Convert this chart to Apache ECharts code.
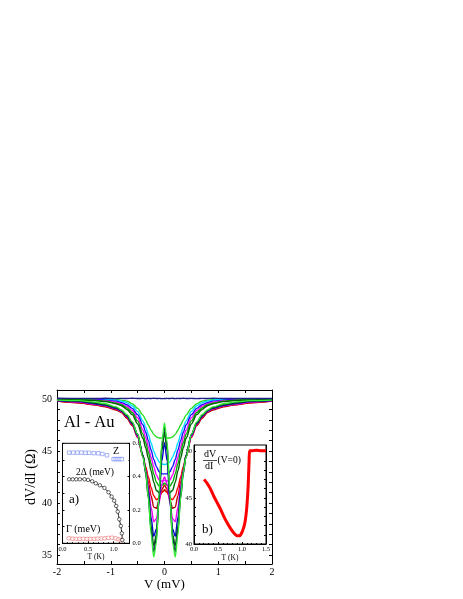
<!DOCTYPE html>
<html>
<head>
<meta charset="utf-8">
<script src="https://cdn.jsdelivr.net/npm/echarts@6/dist/echarts.min.js"></script>
<style>
  html, body { margin: 0; padding: 0; background: #fff; }
  #chart { width: 463px; height: 599px; }
</style>
</head>
<body>
<div id="chart"></div>
<script>
// bias voltage grid (mV) shared by all dV/dI curves
const vGrid = [-2, -1.6, -1.3, -1.1, -0.9, -0.8, -0.7, -0.6, -0.5, -0.4, -0.35, -0.3, -0.25, -0.2, -0.15, -0.1, -0.05, 0,
  0.05, 0.1, 0.15, 0.2, 0.25, 0.3, 0.35, 0.4, 0.5, 0.6, 0.7, 0.8, 0.9, 1.1, 1.3, 1.6, 2]

// dV/dI (Ohm), from highest to lowest temperature
const curveNormal = [50.08, 50.06, 50.05, 50.07, 50.04, 50.06, 50.05, 50.07, 50.05, 50.06, 50.04, 50.06, 50.05, 50.07, 50.05,
  50.06, 50.04, 50.05, 50.06, 50.05, 50.07, 50.04, 50.06, 50.05, 50.07, 50.05, 50.06, 50.04, 50.06, 50.05,
  50.07, 50.05, 50.06, 50.05, 50.06]
const curveGreen1 = [50.0, 50.0, 50.0, 50.0, 49.95, 49.9, 49.8, 49.55, 49.1, 48.45, 48.0, 47.5, 47.0, 46.6, 46.35,
  46.25, 46.25, 46.4, 46.25, 46.25, 46.35, 46.6, 47.0, 47.5, 48.0, 48.45, 49.1, 49.55, 49.8, 49.9,
  49.95, 50.0, 50.0, 50.0, 50.0]
const curveCyan = [50.0, 50.0, 50.0, 49.95, 49.9, 49.8, 49.65, 49.35, 48.8, 47.9, 47.3, 46.6, 45.8, 45.0, 44.4,
  43.95, 43.75, 43.7, 43.75, 43.95, 44.4, 45.0, 45.8, 46.6, 47.3, 47.9, 48.8, 49.35, 49.65, 49.8,
  49.9, 49.95, 50.0, 50.0, 50.0]
const curveBlue1 = [50.0, 50.0, 49.95, 49.9, 49.8, 49.65, 49.45, 49.1, 48.5, 47.5, 46.8, 46.0, 45.1, 44.2, 43.5,
  43.0, 42.8, 42.8, 42.8, 43.0, 43.5, 44.2, 45.1, 46.0, 46.8, 47.5, 48.5, 49.1, 49.45, 49.65,
  49.8, 49.9, 49.95, 50.0, 50.0]
const curveMagenta1 = [50.0, 49.95, 49.9, 49.85, 49.7, 49.55, 49.3, 48.9, 48.2, 47.0, 46.3, 45.4, 44.4, 43.5, 42.7,
  42.2, 42.1, 42.2, 42.1, 42.2, 42.7, 43.5, 44.4, 45.4, 46.3, 47.0, 48.2, 48.9, 49.3, 49.55,
  49.7, 49.85, 49.9, 49.95, 50.0]
const curveGreen2 = [50.0, 49.95, 49.9, 49.8, 49.6, 49.45, 49.15, 48.7, 47.9, 46.6, 45.8, 44.9, 43.8, 42.8, 42.0,
  41.6, 41.7, 41.9, 41.7, 41.6, 42.0, 42.8, 43.8, 44.9, 45.8, 46.6, 47.9, 48.7, 49.15, 49.45,
  49.6, 49.8, 49.9, 49.95, 50.0]
const curveOlive = [49.95, 49.9, 49.85, 49.75, 49.55, 49.35, 49.0, 48.5, 47.6, 46.2, 45.3, 44.3, 43.1, 42.0, 41.2,
  41.0, 41.1, 41.2, 41.1, 41.0, 41.2, 42.0, 43.1, 44.3, 45.3, 46.2, 47.6, 48.5, 49.0, 49.35,
  49.55, 49.75, 49.85, 49.9, 49.95]
const curveRed = [49.8, 49.65, 49.45, 49.3, 49.0, 48.75, 48.2, 47.5, 46.4, 44.5, 43.5, 42.5, 41.5, 40.7, 40.3,
  40.5, 41.0, 41.3, 41.0, 40.5, 40.3, 40.7, 41.5, 42.5, 43.5, 44.5, 46.4, 47.5, 48.2, 48.75,
  49.0, 49.3, 49.45, 49.65, 49.8]
const curveDarkRed = [49.8, 49.65, 49.45, 49.25, 48.95, 48.7, 48.15, 47.45, 46.3, 44.4, 43.3, 42.0, 40.7, 39.6, 39.5,
  40.3, 41.3, 41.7, 41.3, 40.3, 39.5, 39.6, 40.7, 42.0, 43.3, 44.4, 46.3, 47.45, 48.15, 48.7,
  48.95, 49.25, 49.45, 49.65, 49.8]
const curveMagenta2 = [49.85, 49.7, 49.5, 49.35, 49.05, 48.8, 48.3, 47.6, 46.4, 44.5, 43.2, 41.6, 39.6, 38.2, 38.5,
  40.0, 41.8, 42.5, 41.8, 40.0, 38.5, 38.2, 39.6, 41.6, 43.2, 44.5, 46.4, 47.6, 48.3, 48.8,
  49.05, 49.35, 49.5, 49.7, 49.85]
const curveBlue2 = [49.85, 49.75, 49.55, 49.4, 49.1, 48.85, 48.35, 47.65, 46.5, 44.6, 43.1, 41.2, 38.6, 36.8, 37.5,
  40.2, 44.0, 45.8, 44.0, 40.2, 37.5, 36.8, 38.6, 41.2, 43.1, 44.6, 46.5, 47.65, 48.35, 48.85,
  49.1, 49.4, 49.55, 49.75, 49.85]
const curveDarkGreen = [49.9, 49.8, 49.6, 49.45, 49.15, 48.9, 48.4, 47.7, 46.6, 44.6, 43.0, 40.8, 37.8, 35.9, 37.0,
  40.5, 45.0, 46.8, 45.0, 40.5, 37.0, 35.9, 37.8, 40.8, 43.0, 44.6, 46.6, 47.7, 48.4, 48.9,
  49.15, 49.45, 49.6, 49.8, 49.9]
const curveNavy = [49.9, 49.8, 49.65, 49.5, 49.2, 48.9, 48.45, 47.75, 46.6, 44.5, 42.8, 40.5, 37.4, 35.3, 36.6,
  40.8, 45.5, 47.3, 45.5, 40.8, 36.6, 35.3, 37.4, 40.5, 42.8, 44.5, 46.6, 47.75, 48.45, 48.9,
  49.2, 49.5, 49.65, 49.8, 49.9]
const curveGreen3 = [49.9, 49.85, 49.7, 49.55, 49.25, 48.95, 48.5, 47.8, 46.6, 44.4, 43.0, 40.5, 37.0, 34.8, 36.2,
  41.0, 45.8, 47.7, 45.8, 41.0, 36.2, 34.8, 37.0, 40.5, 43.0, 44.4, 46.6, 47.8, 48.5, 48.95,
  49.25, 49.55, 49.7, 49.85, 49.9]

// inset a): fit parameters vs T (K)
const zT = [0.13, 0.21, 0.29, 0.37, 0.45, 0.52, 0.61, 0.70, 0.78, 0.87, 1.00, 1.04, 1.08, 1.12, 1.16]
const zVal = [0.544, 0.544, 0.544, 0.544, 0.543, 0.543, 0.541, 0.540, 0.536, 0.528, 0.505, 0.505, 0.505, 0.505, 0.505]
const gapT = [0.13, 0.20, 0.27, 0.34, 0.43, 0.50, 0.58, 0.65, 0.73, 0.82, 0.90, 0.96, 1.01, 1.05, 1.08, 1.11, 1.14, 1.16, 1.17]
const gapVal = [0.384, 0.384, 0.384, 0.384, 0.384, 0.380, 0.372, 0.360, 0.348, 0.332, 0.306, 0.280, 0.256, 0.224, 0.190, 0.144, 0.104, 0.060, 0.020]
const gammaT = [0.13, 0.20, 0.27, 0.34, 0.41, 0.48, 0.55, 0.62, 0.69, 0.76, 0.83, 0.90, 0.97, 1.04, 1.10, 1.15]
const gammaVal = [0.030, 0.028, 0.027, 0.027, 0.027, 0.026, 0.027, 0.027, 0.028, 0.029, 0.030, 0.033, 0.034, 0.030, 0.024, 0.018]

// inset b): zero bias dV/dI vs T (K)
const zbT = [0.21, 0.27, 0.34, 0.41, 0.48, 0.55, 0.62, 0.69, 0.76, 0.83, 0.90, 0.95, 1.01, 1.06, 1.10, 1.13, 1.15, 1.16, 1.2, 1.3, 1.4, 1.5]
const zbVal = [47.0, 46.6, 46.0, 45.2, 44.5, 43.8, 43.0, 42.3, 41.7, 41.2, 40.9, 40.9, 41.4, 42.3, 44.0, 46.5, 49.4, 50.1, 50.1, 50.15, 50.1, 50.1]

const mainTicks = [35, 40, 45, 50]
const FONT = 'Liberation Serif'

const curves = [
  [curveGreen1, '#22dd22'],
  [curveCyan, '#00ddff'],
  [curveBlue1, '#1010ff'],
  [curveMagenta1, '#ff00ff'],
  [curveGreen2, '#00aa00'],
  [curveOlive, '#006400'],
  [curveRed, '#ff0000'],
  [curveDarkRed, '#bb0000'],
  [curveMagenta2, '#ee00ee'],
  [curveBlue2, '#0000cc'],
  [curveDarkGreen, '#007000'],
  [curveNavy, '#10105a'],
  [curveGreen3, '#33ee33'],
  [curveNormal, '#20208a']
]

const pairs = (xs, ys) => xs.map((x, i) => [x, ys[i]])

const mainSeries = curves.map(([vals, color]) => ({
  type: 'line',
  xAxisIndex: 0,
  yAxisIndex: 0,
  data: pairs(vGrid, vals),
  showSymbol: false,
  smooth: 0.3,
  smoothMonotone: 'x',
  lineStyle: { color, width: 1.4 },
  silent: true
}))

const axisBase = (extra) => Object.assign({
  type: 'value',
  splitLine: { show: false },
  axisLine: { show: true, onZero: false, lineStyle: { color: '#000', width: 1 } },
  axisTick: { inside: true, length: 3, lineStyle: { color: '#000' } },
  axisLabel: { color: '#000', fontFamily: FONT }
}, extra)

// hollow marker style used in inset a)
const hollow = (color) => ({ color: '#fff', borderColor: color, borderWidth: 0.6 })

const chart = echarts.init(document.getElementById('chart'))
chart.setOption({
  animation: false,
  backgroundColor: '#fff',
  textStyle: { fontFamily: FONT },
  grid: [
    { left: 57, top: 390, width: 215, height: 174 },
    { left: 62.5, top: 443.3, width: 67, height: 100, show: true, backgroundColor: '#fff', borderColor: '#000', borderWidth: 1 },
    { left: 194, top: 445, width: 72, height: 99, show: true, backgroundColor: '#fff', borderColor: '#000', borderWidth: 1 }
  ],
  xAxis: [
    axisBase({
      gridIndex: 0, min: -2, max: 2, interval: 1, position: 'bottom',
      minorTick: { show: true, splitNumber: 2, length: 3, lineStyle: { color: '#000' } },
      axisLabel: { color: '#000', fontFamily: FONT, fontSize: 10, margin: 3, formatter: v => String(v) },
      name: 'V (mV)', nameLocation: 'middle', nameGap: 11,
      nameTextStyle: { fontFamily: FONT, fontSize: 13, color: '#000' }
    }),
    axisBase({
      gridIndex: 0, min: -2, max: 2, interval: 1, position: 'top',
      minorTick: { show: true, splitNumber: 2, length: 3, lineStyle: { color: '#000' } },
      axisLabel: { show: false }
    }),
    axisBase({
      gridIndex: 1, min: 0, max: 1.31, interval: 0.5, position: 'bottom',
      axisTick: { inside: true, length: 2, lineStyle: { color: '#000' } },
      minorTick: { show: true, splitNumber: 5, length: 1, lineStyle: { color: '#000' } },
      axisLabel: { color: '#000', fontFamily: FONT, fontSize: 6.5, margin: 2, customValues: [0, 0.5, 1], formatter: v => v.toFixed(1) },
      name: 'T (K)', nameLocation: 'middle', nameGap: 10,
      nameTextStyle: { fontFamily: FONT, fontSize: 7.5, color: '#000' }
    }),
    axisBase({
      gridIndex: 2, min: 0, max: 1.5, interval: 0.5, position: 'bottom',
      axisTick: { inside: true, length: 2, lineStyle: { color: '#000' } },
      minorTick: { show: true, splitNumber: 5, length: 1, lineStyle: { color: '#000' } },
      axisLabel: { color: '#000', fontFamily: FONT, fontSize: 6.5, margin: 2, formatter: v => v.toFixed(1) },
      name: 'T (K)', nameLocation: 'middle', nameGap: 10,
      nameTextStyle: { fontFamily: FONT, fontSize: 7.5, color: '#000' }
    })
  ],
  yAxis: [
    axisBase({
      gridIndex: 0, min: 34.13, max: 50.87, position: 'left',
      axisTick: { inside: true, length: 3, customValues: [35, 36, 37, 38, 39, 40, 41, 42, 43, 44, 45, 46, 47, 48, 49, 50], lineStyle: { color: '#000' } },
      axisLabel: { color: '#000', fontFamily: FONT, fontSize: 10, margin: 5, customValues: mainTicks },
      name: 'dV/dI (Ω)', nameLocation: 'middle', nameGap: 13,
      nameTextStyle: { fontFamily: FONT, fontSize: 14, color: '#000' }
    }),
    axisBase({
      gridIndex: 0, min: 34.13, max: 50.87, position: 'right',
      axisTick: { inside: true, length: 3, customValues: [35, 36, 37, 38, 39, 40, 41, 42, 43, 44, 45, 46, 47, 48, 49, 50], lineStyle: { color: '#000' } },
      axisLabel: { show: false }
    }),
    axisBase({
      gridIndex: 1, min: 0, max: 0.6, interval: 0.2, position: 'right',
      axisTick: { inside: true, length: 2, lineStyle: { color: '#000' } },
      minorTick: { show: true, splitNumber: 2, length: 1, lineStyle: { color: '#000' } },
      axisLabel: { color: '#000', fontFamily: FONT, fontSize: 6.5, margin: 3, formatter: v => v.toFixed(1) }
    }),
    axisBase({
      gridIndex: 1, min: 0, max: 0.6, interval: 0.1, position: 'left',
      axisTick: { inside: true, length: 2, lineStyle: { color: '#000' } },
      axisLabel: { show: false }
    }),
    axisBase({
      gridIndex: 2, min: 40, max: 50.73, position: 'left',
      axisTick: { inside: true, length: 2, customValues: [40, 41, 42, 43, 44, 45, 46, 47, 48, 49, 50], lineStyle: { color: '#000' } },
      axisLabel: { color: '#000', fontFamily: FONT, fontSize: 6.5, margin: 2, customValues: [40, 45, 50] }
    }),
    axisBase({
      gridIndex: 2, min: 40, max: 50.73, position: 'right',
      axisTick: { inside: true, length: 2, customValues: [41, 42, 43, 44, 45, 46, 47, 48, 49, 50], lineStyle: { color: '#000' } },
      axisLabel: { show: false }
    })
  ],
  series: mainSeries.concat([
    {
      type: 'scatter', xAxisIndex: 2, yAxisIndex: 2,
      data: pairs(zT, zVal), symbol: 'rect', symbolSize: 3.5,
      itemStyle: hollow('#4a66ee')
    },
    {
      type: 'line', xAxisIndex: 2, yAxisIndex: 2,
      data: pairs(gapT, gapVal), symbol: 'circle', symbolSize: 3.5, smooth: 0.3,
      lineStyle: { color: '#000', width: 0.9 },
      itemStyle: hollow('#000')
    },
    {
      type: 'scatter', xAxisIndex: 2, yAxisIndex: 2,
      data: pairs(gammaT, gammaVal), symbol: 'circle', symbolSize: [5, 3.5],
      itemStyle: hollow('#e84848')
    },
    {
      type: 'line', xAxisIndex: 3, yAxisIndex: 4,
      data: pairs(zbT, zbVal), showSymbol: false, smooth: 0.2,
      lineStyle: { color: '#ff0000', width: 3 }
    }
  ]),
  graphic: [
    { type: 'text', left: 64, top: 414, style: { text: 'Al - Au', font: '16.5px "Liberation Serif"', fill: '#000' } },
    { type: 'text', left: 113, top: 446, style: { text: 'Z', font: '10px "Liberation Serif"', fill: '#000' } },
    { type: 'text', left: 76, top: 467, style: { text: '2Δ (meV)', font: '9.5px "Liberation Serif"', fill: '#000' } },
    { type: 'text', left: 69, top: 493, style: { text: 'a)', font: '13px "Liberation Serif"', fill: '#000' } },
    { type: 'text', left: 66, top: 524, style: { text: 'Γ (meV)', font: '10px "Liberation Serif"', fill: '#000' } },
    { type: 'text', left: 204, top: 449, style: { text: 'dV', font: '10px "Liberation Serif"', fill: '#000' } },
    { type: 'line', shape: { x1: 203, y1: 460.5, x2: 217, y2: 460.5 }, style: { stroke: '#000', lineWidth: 0.7 } },
    { type: 'text', left: 205, top: 461.5, style: { text: 'dI', font: '10px "Liberation Serif"', fill: '#000' } },
    { type: 'text', left: 217.5, top: 455, style: { text: '(V=0)', font: '9.5px "Liberation Serif"', fill: '#000' } },
    { type: 'text', left: 202, top: 523, style: { text: 'b)', font: '13px "Liberation Serif"', fill: '#000' } }
  ]
})
</script>
</body>
</html>
